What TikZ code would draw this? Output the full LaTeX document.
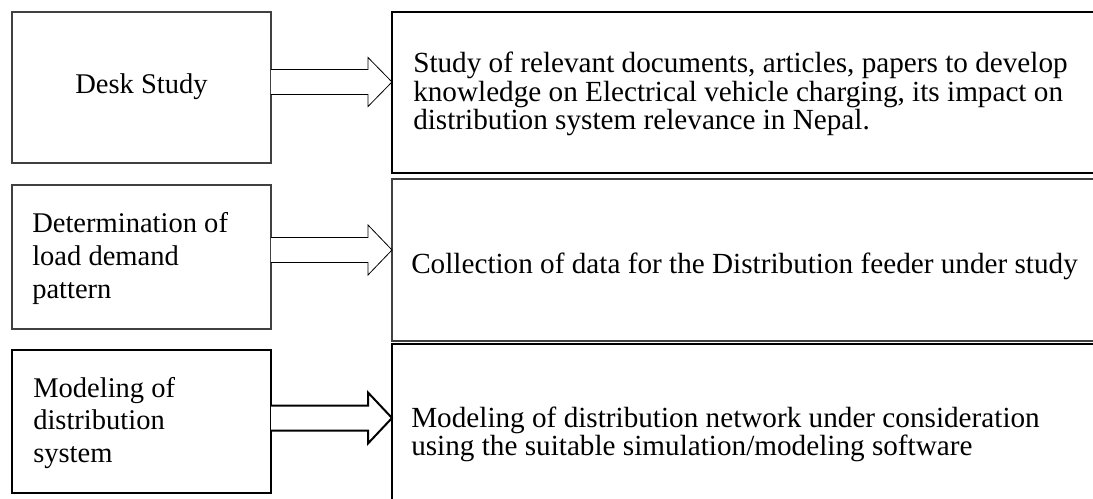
\documentclass[tikz,border=0pt]{standalone}
\usepackage{fontspec}
\setmainfont{Liberation Serif}
\usetikzlibrary{calc,fit}
\begin{document}
\begin{tikzpicture}[x=0.75pt,y=-0.75pt,
  thinbox/.style={draw=black!75, line width=0.8pt, inner sep=0pt, outer sep=0pt},
  thickbox/.style={draw=black, line width=2.2pt, inner sep=0pt, outer sep=0pt},
  medbox/.style={draw=black, line width=1.5pt, inner sep=0pt, outer sep=0pt},
  thinarrow/.style={draw=black, line width=0.6pt, line join=miter, fill=white},
  medarrow/.style={draw=black, line width=1.5pt, line join=miter, fill=white},
  lefttext/.style={inner sep=0pt, anchor=base west, font=\fontsize{21.4}{24.4}\selectfont},
  righttext/.style={inner sep=0pt, anchor=base west, font=\fontsize{21.9}{20.6}\selectfont}]
\useasboundingbox (0,0) rectangle (1093,499);
\clip (0,0) rectangle (1093,499);
% left boxes
\node[thinbox, fit={(12,12) (271,163)}] (L1) {};
\node[thinbox, fit={(12,185) (271,329)}] (L2) {};
\node[medbox, fit={(12,350) (271,493)}] (L3) {};
% right boxes
\node[thickbox, fit={(392,12) (1115,173)}] (R1) {};
\node[thinbox, fit={(392,179) (1115,341)}] (R2) {};
\node[thickbox, fit={(392,344) (1115,530)}] (R3) {};
% texts
\node[inner sep=0pt, anchor=base, font=\fontsize{21.4}{24.4}\selectfont] (T1) at (141.5,94) {Desk Study};
\node[lefttext] (T2) at (32,233) {\begin{tabular}[t]{@{}l@{}}Determination of\\load demand\\pattern\end{tabular}};
\node[lefttext] (T3) at (33,397) {\begin{tabular}[t]{@{}l@{}}Modeling of\\distribution\\system\end{tabular}};
\node[righttext] (U1) at (413,73) {\begin{tabular}[t]{@{}l@{}}Study of relevant documents, articles, papers to develop\\knowledge on Electrical vehicle charging, its impact on\\distribution system relevance in Nepal.\end{tabular}};
\node[righttext] (U2) at (411,273) {Collection of data for the Distribution feeder under study};
\node[righttext] (U3) at (411,427) {\begin{tabular}[t]{@{}l@{}}Modeling of distribution network under consideration\\using the suitable simulation/modeling software\end{tabular}};
% arrows
\coordinate (a1s) at (L1.east |- 0,82);
\coordinate (a1t) at (R1.west |- 0,82);
\coordinate (a2s) at (L2.east |- 0,250);
\coordinate (a2t) at (R2.west |- 0,250);
\coordinate (a3s) at (L3.east |- 0,418);
\coordinate (a3t) at (R3.west |- 0,418);
\draw[thinarrow] ($(a1s)+(0,-12.5)$) -- ($(a1t)+(-24,-12.5)$) -- ($(a1t)+(-24,-24.5)$) -- (a1t) -- ($(a1t)+(-24,24.5)$) -- ($(a1t)+(-24,12.5)$) -- ($(a1s)+(0,12.5)$);
\draw[thinarrow] ($(a2s)+(0,-12.5)$) -- ($(a2t)+(-24,-12.5)$) -- ($(a2t)+(-24,-25)$) -- (a2t) -- ($(a2t)+(-24,25)$) -- ($(a2t)+(-24,12.5)$) -- ($(a2s)+(0,12.5)$);
\draw[medarrow] ($(a3s)+(0,-12.5)$) -- ($(a3t)+(-24,-12.5)$) -- ($(a3t)+(-24,-25.5)$) -- (a3t) -- ($(a3t)+(-24,25.5)$) -- ($(a3t)+(-24,12.5)$) -- ($(a3s)+(0,12.5)$);
\end{tikzpicture}
\end{document}
